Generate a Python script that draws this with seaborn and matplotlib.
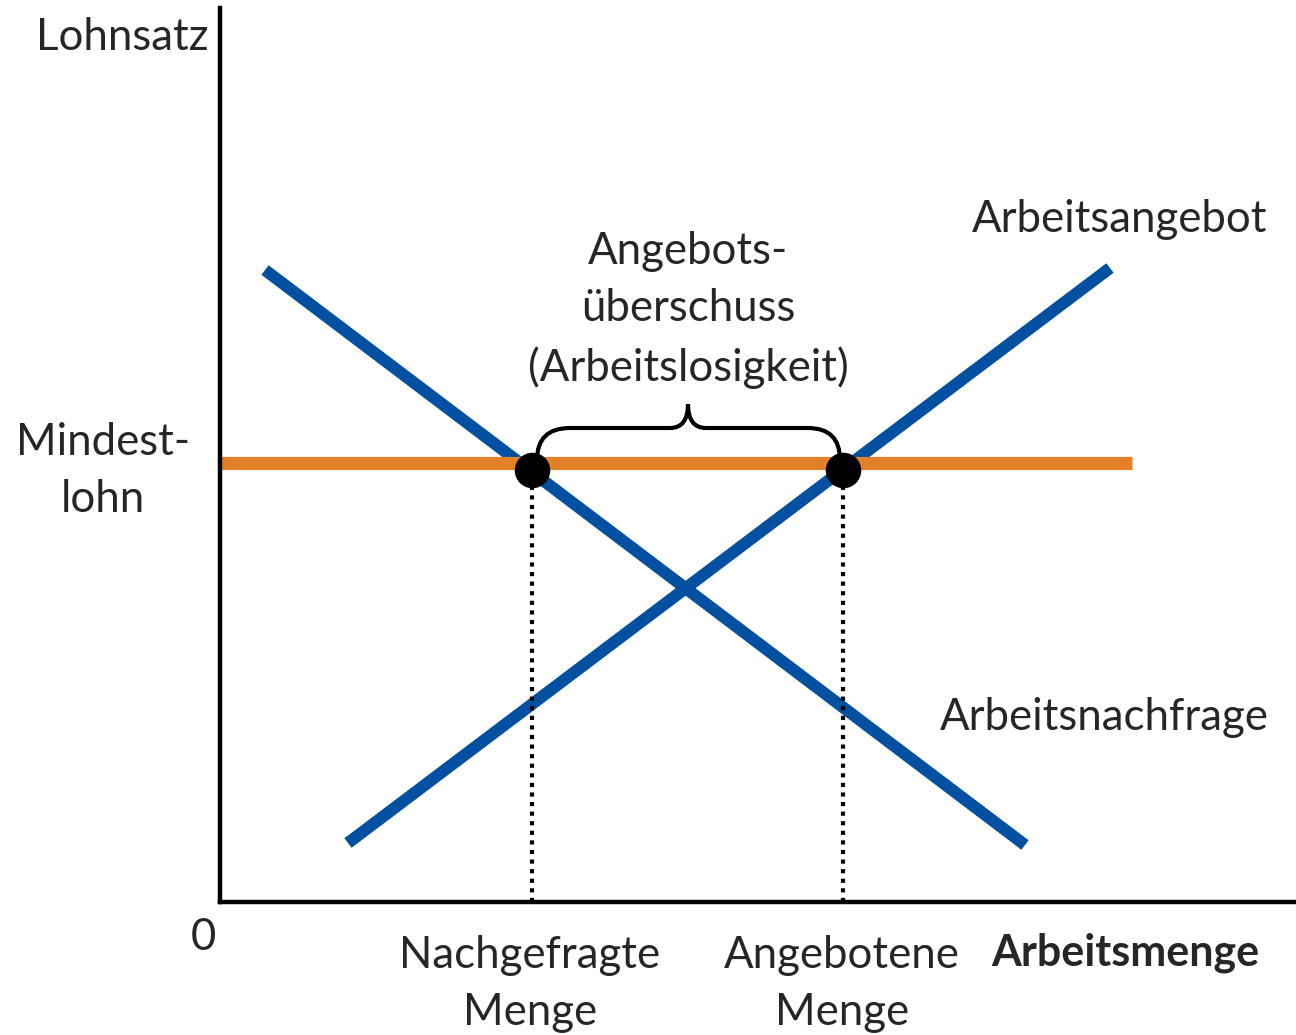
"""
Mindestlohn im Arbeitsmarktdiagramm: Angebotsueberschuss (Arbeitslosigkeit).
"""

import pandas as pd
import matplotlib.pyplot as plt
from matplotlib.path import Path
from matplotlib.patches import PathPatch
import seaborn as sns

# data (arbitrary units, origin at the axis corner)
demand_x = [45, 805]
demand_y = [632, 57]
supply_x = [128, 890]
supply_y = [59, 634]
minwage_x = [0, 912]
minwage_y = [439, 439]
points_x = [312, 623]
points_y = [432, 432]

blue = '#0450A0'
orange = '#E3802A'

sns.set_style('white')
plt.rcParams['font.family'] = ['Lato', 'DejaVu Sans']

fig = plt.figure(figsize=(12.96, 10.35), dpi=100)
ax = fig.add_axes([220/1296, (1035-902)/1035, 1076/1296, 894/1035])
ax.set_xlim(0, 1076)
ax.set_ylim(0, 894)

lines = pd.DataFrame({
    'x': demand_x + supply_x,
    'y': demand_y + supply_y,
    'kurve': ['Nachfrage'] * 2 + ['Angebot'] * 2,
})
sns.lineplot(data=lines, x='x', y='y', units='kurve', estimator=None,
             color=blue, linewidth=8.6, solid_capstyle='butt', ax=ax,
             sort=False)

wage = pd.DataFrame({'x': minwage_x, 'y': minwage_y})
sns.lineplot(data=wage, x='x', y='y', color=orange, linewidth=9.5,
             solid_capstyle='butt', ax=ax)

# dotted drops to the x axis
for px, py in zip(points_x, points_y):
    ax.plot([px, px], [0, py], color='black', linestyle=(0, (1, 1.3)),
            linewidth=3)

pts = pd.DataFrame({'x': points_x, 'y': points_y})
sns.scatterplot(data=pts, x='x', y='y', color='black', s=560,
                edgecolor='black', zorder=5, ax=ax)

# curly brace over the gap
verts = [(317, 442), (317, 474), (350, 474), (450, 474), (468, 474),
         (468, 498), (468, 474), (486, 474), (588, 474), (620, 474),
         (620, 442)]
codes = [Path.MOVETO, Path.CURVE3, Path.CURVE3, Path.LINETO, Path.CURVE3,
         Path.CURVE3, Path.CURVE3, Path.CURVE3, Path.LINETO, Path.CURVE3,
         Path.CURVE3]
ax.add_patch(PathPatch(Path(verts, codes), fill=False, lw=3,
                       edgecolor='black', capstyle='round'))

for side in ['top', 'right']:
    ax.spines[side].set_visible(False)
for side in ['left', 'bottom']:
    ax.spines[side].set_linewidth(3.2)
    ax.spines[side].set_color('black')
ax.set_xticks([])
ax.set_yticks([])
ax.set_xlabel('')
ax.set_ylabel('')

fs = 31.5
def label(x, y, s, size=fs, **kw):
    ax.text(x - 220, 902 - y, s, ha='center', va='center', fontsize=size,
            clip_on=False, linespacing=1.48, **kw)

label(122, 38, 'Lohnsatz', size=31.5)
label(103, 471, 'Mindest-\nlohn')
label(688, 310, 'Angebots-\nüberschuss\n(Arbeitslosigkeit)')
label(1120, 220, 'Arbeitsangebot')
label(1104, 717, 'Arbeitsnachfrage')
label(203, 937, '0')
label(530, 984, 'Nachgefragte\nMenge')
label(842, 984, 'Angebotene\nMenge')
label(1125, 953, 'Arbeitsmenge', size=31, fontweight='bold')

fig.savefig('out.png', dpi=100)
